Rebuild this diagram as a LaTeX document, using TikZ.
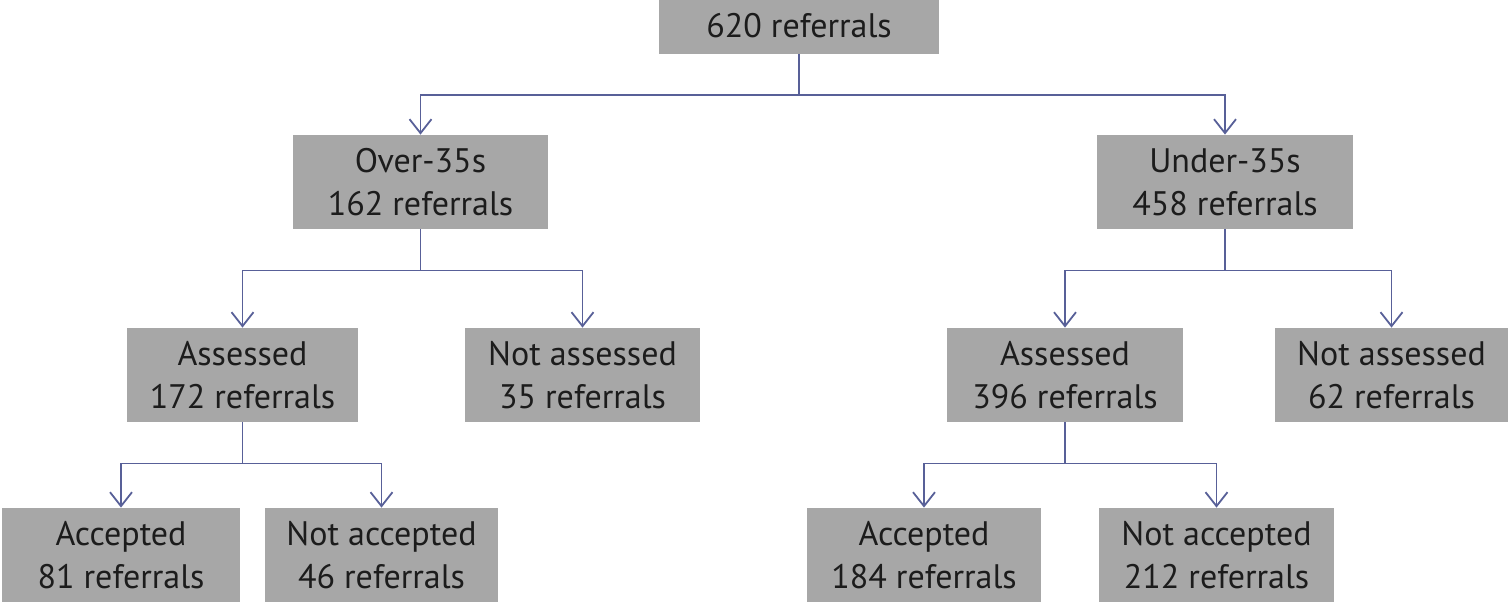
\documentclass[tikz,border=0pt]{standalone}
\usepackage{fontspec}
\setmainfont{PT Sans}
\usetikzlibrary{arrows.meta}

\definecolor{boxgray}{RGB}{167,167,167}
\definecolor{linkblue}{RGB}{88,96,152}
\definecolor{txtgray}{RGB}{28,28,28}

\newcommand{\fork}[4]{
	\draw[link] (#1.south) -- ++(0,#4) coordinate (#1-j);
	\draw[link,->] (#1-j) -| (#2.north);
	\draw[link,->] (#1-j) -| (#3.north);
}

\begin{document}
\begin{tikzpicture}[x=0.5pt,y=-0.5pt,
	stagebox/.style={fill=boxgray, text=txtgray, align=center, inner sep=0pt,
		minimum height=47pt, font=\fontsize{17}{21.5}\selectfont},
	link/.style={draw=linkblue, line width=0.9pt,
		>={Straight Barb[length=7pt,width=11pt,line width=0.9pt]}}]
\useasboundingbox (0,0) rectangle (1509,602);

\pgfmathsetmacro{\rowA}{26}
\pgfmathsetmacro{\rowB}{182}
\pgfmathsetmacro{\rowC}{375}
\pgfmathsetmacro{\rowD}{555}
\pgfmathsetmacro{\drop}{41}

\node[stagebox, minimum width=140pt, minimum height=27.5pt] (all) at (799,\rowA) {620 referrals};

\node[stagebox, minimum width=127.5pt] (over) at (420.5,\rowB) {Over-35s\\162 referrals};
\node[stagebox, minimum width=128pt] (under) at (1225,\rowB) {Under-35s\\458 referrals};

\node[stagebox, minimum width=115.5pt] (overass) at (242.5,\rowC) {Assessed\\172 referrals};
\node[stagebox, minimum width=117.5pt] (overnot) at (582.5,\rowC) {Not assessed\\35 referrals};
\node[stagebox, minimum width=118pt] (underass) at (1065,\rowC) {Assessed\\396 referrals};
\node[stagebox, minimum width=116.5pt] (undernot) at (1391.5,\rowC) {Not assessed\\62 referrals};

\node[stagebox, minimum width=119pt] (overacc) at (121,\rowD) {Accepted\\81 referrals};
\node[stagebox, minimum width=116.5pt] (overrej) at (381.5,\rowD) {Not accepted\\46 referrals};
\node[stagebox, minimum width=117pt] (underacc) at (924,\rowD) {Accepted\\184 referrals};
\node[stagebox, minimum width=117.5pt] (underrej) at (1216.5,\rowD) {Not accepted\\212 referrals};

\fork{all}{over}{under}{\drop}
\fork{over}{overass}{overnot}{\drop}
\fork{under}{underass}{undernot}{\drop}
\fork{overass}{overacc}{overrej}{\drop}
\fork{underass}{underacc}{underrej}{\drop}
\end{tikzpicture}
\end{document}
